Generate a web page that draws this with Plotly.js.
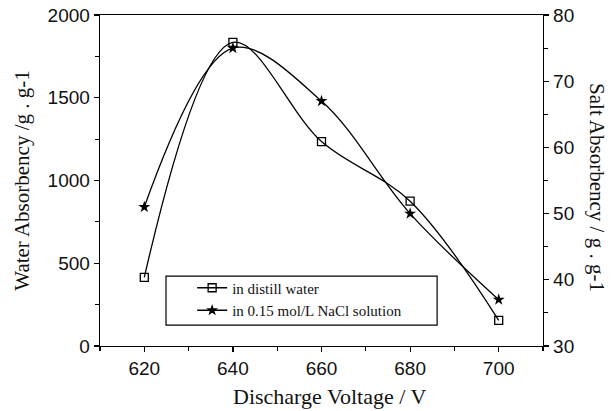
<!DOCTYPE html>
<html>
<head>
<meta charset="utf-8">
<script src="https://cdn.plot.ly/plotly-3.0.1.min.js"></script>
<style>html,body{margin:0;padding:0;background:#fff;}#chart{width:615px;height:411px;}</style>
</head>
<body>
<div id="chart"></div>
<script>
const voltage = [620, 640, 660, 680, 700];
const waterAbsorbency = [415, 1835, 1235, 875, 155];
const saltAbsorbency = [51, 75, 67, 50, 37];
const seriesNames = ['in distill water', 'in 0.15 mol/L NaCl solution'];
const xTitle = 'Discharge Voltage / V';
const yTitle = 'Water Absorbency /g . g-1';
const y2Title = 'Salt Absorbency / g . g-1';

const tickFont = {family: 'Liberation Sans, Arial, sans-serif', size: 19, color: '#111'};
const titleFont = {family: 'Liberation Serif, Times New Roman, serif', size: 21, color: '#111'};
const xTitleFont = {family: 'Liberation Serif, Times New Roman, serif', size: 22, color: '#111'};

const traces = [
  {
    x: voltage, y: waterAbsorbency, name: seriesNames[0], type: 'scatter', mode: 'lines+markers',
    line: {shape: 'spline', smoothing: 1, color: '#000', width: 1.3},
    marker: {symbol: 'square-open', size: 8, color: '#000', line: {width: 1.3, color: '#000'}},
    xaxis: 'x', yaxis: 'y'
  },
  {
    x: voltage, y: saltAbsorbency, name: seriesNames[1], type: 'scatter', mode: 'lines+markers',
    line: {shape: 'spline', smoothing: 1, color: '#000', width: 1.3},
    marker: {symbol: 'star', size: 9, color: '#000', line: {width: 0}},
    xaxis: 'x', yaxis: 'y2'
  }
];

const layout = {
  width: 615, height: 411,
  margin: {l: 100, r: 72, t: 15, b: 65},
  paper_bgcolor: '#fff', plot_bgcolor: '#fff',
  showlegend: true,
  legend: {
    x: 0.208, y: 0.225, xanchor: 'left', yanchor: 'top',
    bgcolor: 'rgba(0,0,0,0)', borderwidth: 0,
    font: {family: 'Liberation Serif, Times New Roman, serif', size: 15, color: '#111'},
    tracegroupgap: 0
  },
  xaxis: {
    range: [610, 710], tickvals: [620, 640, 660, 680, 700],
    showgrid: false, zeroline: false, showline: true, linecolor: '#000', linewidth: 1.3,
    mirror: true, ticks: 'outside', ticklen: 5, tickwidth: 1.2, tickcolor: '#000',
    minor: {dtick: 10, tick0: 610, ticks: 'outside', ticklen: 4, tickwidth: 1.2, tickcolor: '#000', showgrid: false},
    tickfont: tickFont
  },
  yaxis: {
    range: [0, 2000], dtick: 500,
    showgrid: false, zeroline: false, showline: true, linecolor: '#000', linewidth: 1.3,
    mirror: false, ticks: 'outside', ticklen: 5, tickwidth: 1.2, tickcolor: '#000',
    minor: {dtick: 250, ticks: 'outside', ticklen: 4, tickwidth: 1.2, tickcolor: '#000', showgrid: false},
    tickfont: tickFont,
    title: {text: yTitle, font: titleFont, standoff: 12}
  },
  yaxis2: {
    range: [30, 80], dtick: 10, overlaying: 'y', side: 'right',
    showgrid: false, zeroline: false, showline: true, linecolor: '#000', linewidth: 1.3,
    ticks: 'outside', ticklen: 5, tickwidth: 1.2, tickcolor: '#000',
    minor: {dtick: 5, ticks: 'outside', ticklen: 4, tickwidth: 1.2, tickcolor: '#000', showgrid: false},
    tickfont: tickFont
  },
  shapes: [
    {type: 'rect', xref: 'paper', yref: 'paper', x0: 0.149, x1: 0.761, y0: 0.063, y1: 0.211,
     line: {color: '#000', width: 1.2}, fillcolor: 'rgba(0,0,0,0)'}
  ],
  annotations: [
    {text: xTitle, xref: 'paper', yref: 'paper', x: 0.517, y: -0.154, xanchor: 'center', yanchor: 'middle',
     showarrow: false, font: xTitleFont},
    {text: y2Title, xref: 'paper', yref: 'paper', x: 1.122, y: 0.48, xanchor: 'center', yanchor: 'middle',
     textangle: 90, showarrow: false, font: titleFont}
  ]
};

Plotly.newPlot('chart', traces, layout, {displayModeBar: false, staticPlot: true});
</script>
</body>
</html>
